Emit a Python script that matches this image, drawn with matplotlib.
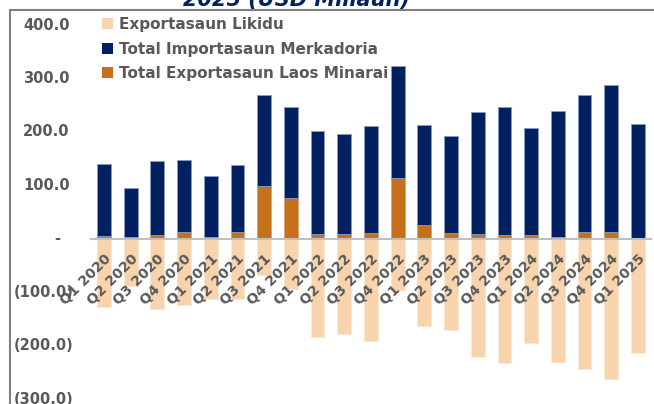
import matplotlib.pyplot as plt
from matplotlib.patches import Patch, Rectangle

quarters = ['Q1 2020', 'Q2 2020', 'Q3 2020', 'Q4 2020',
            'Q1 2021', 'Q2 2021', 'Q3 2021', 'Q4 2021',
            'Q1 2022', 'Q2 2022', 'Q3 2022', 'Q4 2022',
            'Q1 2023', 'Q2 2023', 'Q3 2023', 'Q4 2023',
            'Q1 2024', 'Q2 2024', 'Q3 2024', 'Q4 2024',
            'Q1 2025']

# USD millions
exp_non_mineral = [6, 4, 8, 12.5, 4, 14, 100, 77, 10, 10, 11, 114,
                   26, 11, 9, 8, 7, 4, 13, 13, 0.5]
imports = [134, 91, 138, 135, 114, 125, 169, 169, 192, 186, 200, 209,
           188, 182, 228, 239, 200, 235, 256, 274, 215]
net_exports = [-128, -88, -130, -124, -112, -112, -67, -93, -183, -177,
               -190, -95, -163, -171, -221, -232, -194, -230, -243, -261,
               -213]

yticks = [400, 300, 200, 100, 0, -100, -200, -300]

navy = '#002060'
orange = '#C5701A'
peach = '#F8D4AE'
grey = '#595959'

plt.rcParams['font.family'] = ['DejaVu Sans']

W, H = 654, 404
fig = plt.figure(figsize=(W / 100, H / 100), dpi=100)
ax = fig.add_axes([90.6 / W, 4.5 / H, 560.7 / W, 374.5 / H])

x = range(len(quarters))
ax.bar(x, net_exports, width=0.52, color=peach, edgecolor='#fbe6d0', linewidth=0.6, zorder=1)
ax.bar(x, exp_non_mineral, width=0.52, color=orange, edgecolor='#e0a070', linewidth=0.6, zorder=1)
ax.bar(x, imports, width=0.52, bottom=exp_non_mineral, color=navy,
       edgecolor='#8c9cc0', linewidth=0.6, zorder=1)

ax.set_xlim(-0.5, len(quarters) - 0.5)
ax.set_ylim(-300, 400)

for s in ['left', 'right', 'top']:
    ax.spines[s].set_visible(False)
ax.spines['bottom'].set_position(('data', 0))
ax.spines['bottom'].set_color('#bfbfbf')
ax.spines['bottom'].set_linewidth(1.5)
ax.spines['bottom'].set_zorder(3)
ax.xaxis.set_zorder(4)

ax.set_xticks(list(x))
ax.set_xticklabels(quarters, rotation=45, ha='right', va='top',
                   rotation_mode='anchor', fontsize=10, fontweight='bold', color=grey)
ax.tick_params(axis='x', length=0, pad=9)

# y labels in accounting style
ax.set_yticks([])
ytr = ax.get_yaxis_transform()
for v in yticks:
    if v > 0:
        lab, xe = f'{v:.1f}', 69.5
    elif v < 0:
        lab, xe = f'({-v:.1f})', 73.5
    else:
        lab, xe = '-', 60
    ax.text((xe - 90.6) / 560.7, v, lab, transform=ytr, ha='right', va='center',
            fontsize=10.5, fontweight='bold', color=grey, clip_on=False, zorder=5)

handles = [Patch(facecolor=peach, label='Exportasaun Likidu'),
           Patch(facecolor=navy, label='Total Importasaun Merkadoria'),
           Patch(facecolor=orange, label='Total Exportasaun Laos Minarai')]
leg = fig.legend(handles=handles, loc='upper left', bbox_to_anchor=(96 / W, 1 - 11 / H),
                 frameon=False, fontsize=11, handlelength=0.72, handleheight=0.72,
                 handletextpad=0.4, labelspacing=0.62, borderaxespad=0)
for t in leg.get_texts():
    t.set_color(grey)
    t.set_fontweight('bold')
leg.set_zorder(5)

# chart border
fig.add_artist(Rectangle((9.5 / W, -0.1), 1.2, 1 - 9.5 / H + 0.1, transform=fig.transFigure,
                         fill=False, edgecolor='#7f7f7f', linewidth=1.5))

fig.text(296 / W, 1 - 6 / H, '2025 (USD Millaun)', ha='center', va='baseline',
         fontsize=15, fontweight='bold', fontstyle='italic', color=navy)

fig.savefig('out.png', dpi=100)
